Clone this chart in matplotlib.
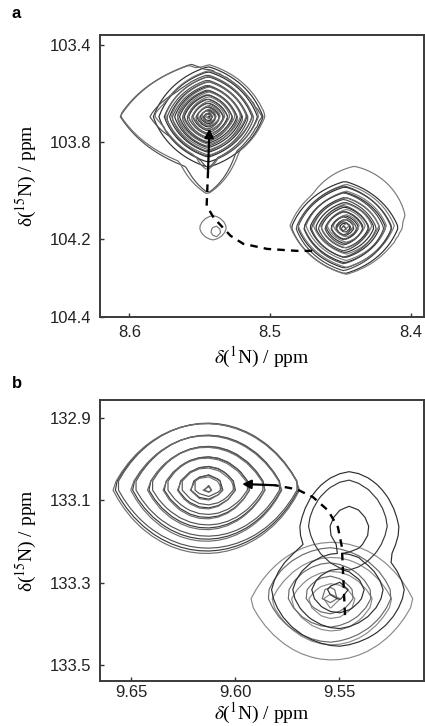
import numpy as np
import matplotlib
matplotlib.use("Agg")
import matplotlib.pyplot as plt

plt.rcParams["mathtext.fontset"] = "stix"
plt.rcParams["font.family"] = ["Liberation Sans", "DejaVu Sans"]

# ── peak model: each row = one peak component of one spectrum ──────────
# centre (ppm), outer half-widths (ppm), corner sharpness, rings above base
STEP = 0.1      # log-intensity step between contour levels
P = 0.75        # peak profile exponent

# panel a (8.39-8.62 / 103.36-104.52 ppm)
A_GROUP = [0, 1, 1, 1, 2, 2, 2, 3, 4, 4, 5, 6, 7]
A_X = [8.5439, 8.5444, 8.5560, 8.5440, 8.5434, 8.5575, 8.5445,
       8.4468, 8.4458, 8.4400, 8.4475, 8.5405, 8.5385]
A_Y = [103.697, 103.702, 103.695, 103.840, 103.692, 103.690, 103.850,
       104.152, 104.145, 104.100, 104.155, 104.153, 104.168]
A_HX = [0.039, 0.037, 0.0505, 0.020, 0.040, 0.0490, 0.022,
        0.038, 0.040, 0.036, 0.034, 0.0095, 0.0035]
A_HY = [0.207, 0.200, 0.215, 0.170, 0.210, 0.205, 0.165,
        0.190, 0.200, 0.200, 0.175, 0.050, 0.022]
A_KX = [0.5, 0.5, 0.9, 0.9, 0.5, 0.9, 0.9, 0.5, 0.5, 0.3, 0.5, 0.2, 0.2]
A_KY = [0.5, 0.5, 0.9, 0.9, 0.5, 0.9, 0.9, 0.5, 0.5, 0.3, 0.5, 0.2, 0.2]
A_N = [13, 12, 3, 2, 11.5, 2.5, 2, 11, 9, 2, 8, 1, 1]
A_COLOR = ["#2e2e2e", "#505050", "#6e6e6e", "#2e2e2e", "#7a7a7a",
           "#4a4a4a", "#7a7a7a", "#7a7a7a"]

# panel b (9.509-9.665 / 132.855-133.54 ppm)
B_GROUP = [0, 1, 2, 3, 4, 5, 5, 6]
B_X = [9.6135, 9.6131, 9.6138, 9.5534, 9.5545, 9.5505, 9.5450, 9.5457]
B_Y = [133.068, 133.064, 133.071, 133.345, 133.330, 133.320, 133.170,
       133.160]
B_HX = [0.0447, 0.0440, 0.0452, 0.0394, 0.0300, 0.0320, 0.0240, 0.0190]
B_HY = [0.155, 0.152, 0.158, 0.143, 0.115, 0.135, 0.140, 0.110]
B_KX = [0.0, 0.0, 0.0, 0.0, 0.1, 0.1, 0.1, 0.2]
B_KY = [0.5, 0.5, 0.5, 0.5, 0.3, 0.2, 0.2, 0.2]
B_N = [7, 6.8, 6.9, 5, 4, 4, 2, 1]
B_COLOR = ["#3a3a3a", "#555555", "#6e6e6e", "#8a8a8a", "#6a6a6a",
           "#2e2e2e", "#3a3a3a"]
B_STEP = 0.14

# titration paths (ppm) ending in the arrow tip
PATH_A_X = [8.470, 8.481, 8.502, 8.519, 8.528, 8.540, 8.545, 8.544, 8.543]
PATH_A_Y = [104.248, 104.248, 104.240, 104.219, 104.186, 104.112, 104.062,
            103.917, 103.745]
PATH_B_X = [9.5471, 9.5486, 9.5505, 9.5553, 9.5625, 9.5702, 9.5808, 9.5966]
PATH_B_Y = [133.379, 133.213, 133.165, 133.124, 133.092, 133.073, 133.063,
            133.060]

A_XLIM = (8.6208, 8.3905)
A_YLIM = (104.52, 103.36)
A_XTICKS = [8.6, 8.5, 8.4]
A_YTICKS = [103.4, 103.8, 104.2, 104.52]
A_YTICKLABELS = ["103.4", "103.8", "104.2", "104.4"]

B_XLIM = (9.6649, 9.5091)
B_YLIM = (133.540, 132.855)
B_XTICKS = [9.65, 9.60, 9.55]
B_YTICKS = [132.9, 133.1, 133.3, 133.5]


def field(X, Y, comps, step):
    # union of the peak components: each keeps its own contour rings
    best = np.full_like(X, -50.0)
    for x0, y0, hx, hy, kx, ky, n in comps:
        H = n * step
        r0 = H ** (1 / P)
        u = (X - x0) / hx * r0 / (1 + kx)
        v = (Y - y0) / hy * r0 / (1 + ky)
        r = np.sqrt(u**2 + v**2) + kx * np.abs(u) + ky * np.abs(v)
        best = np.maximum(best, H - r**P)
    return best


def draw_peaks(ax, groups, xs, ys, hxs, hys, kxs, kys, ns, colors, step,
               xlim, ylim, dx, dy):
    gx = np.arange(min(xlim), max(xlim), dx)
    gy = np.arange(min(ylim), max(ylim), dy)
    X, Y = np.meshgrid(gx, gy)
    for g, col in enumerate(colors):
        comps = [(xs[i], ys[i], hxs[i], hys[i], kxs[i], kys[i], ns[i])
                 for i in range(len(groups)) if groups[i] == g]
        F = field(X, Y, comps, step)
        nmax = max(c[6] for c in comps)
        levels = np.arange(0, nmax * step - 1e-9, step)
        ax.contour(X, Y, F, levels=levels, colors=col, linewidths=0.85)


def draw_path(ax, px, py):
    ax.plot(px[:-1], py[:-1], color="black", lw=1.7, dashes=(3.2, 2.6),
            zorder=5)
    ax.annotate("", xy=(px[-1], py[-1]), xytext=(px[-2], py[-2]),
                arrowprops=dict(arrowstyle="-|>", color="black", lw=1.6,
                                mutation_scale=13, shrinkA=0, shrinkB=0),
                zorder=6)


def style_axes(ax, xlim, ylim, xticks, xticklabels, yticks, yticklabels,
               xpad, labelpad):
    ax.set_xlim(*xlim)
    ax.set_ylim(*ylim)
    ax.set_xticks(xticks)
    ax.set_xticklabels(xticklabels)
    ax.set_yticks(yticks)
    ax.set_yticklabels(yticklabels)
    ax.tick_params(direction="in", length=3, width=1, labelsize=12,
                   pad=6, colors="#333333", labelcolor="#222222")
    ax.tick_params(axis="x", pad=xpad)
    for s in ax.spines.values():
        s.set_color("#3a3a3a")
        s.set_linewidth(1.4)
    ax.set_xlabel(r"$\delta$(${}^{1}$N) / ppm", fontsize=14,
                  family="Liberation Serif", labelpad=labelpad)
    ax.set_ylabel(r"δ(${}^{15}$N) / ppm", fontsize=14,
                  family="Liberation Serif", labelpad=8)


fig = plt.figure(figsize=(4.25, 7.26), dpi=100)
ax_a = fig.add_axes([0.2353, 0.5634, 0.7624, 0.3884])
ax_b = fig.add_axes([0.2353, 0.0616, 0.7624, 0.3878])

draw_peaks(ax_a, A_GROUP, A_X, A_Y, A_HX, A_HY, A_KX, A_KY, A_N, A_COLOR,
           STEP, A_XLIM, A_YLIM, 0.0025, 0.014)
draw_path(ax_a, PATH_A_X, PATH_A_Y)
style_axes(ax_a, A_XLIM, A_YLIM, A_XTICKS, ["8.6", "8.5", "8.4"],
           A_YTICKS, A_YTICKLABELS, 6, 3)

draw_peaks(ax_b, B_GROUP, B_X, B_Y, B_HX, B_HY, B_KX, B_KY, B_N, B_COLOR,
           B_STEP, B_XLIM, B_YLIM, 0.0045, 0.022)
draw_path(ax_b, PATH_B_X, PATH_B_Y)
style_axes(ax_b, B_XLIM, B_YLIM, B_XTICKS, ["9.65", "9.60", "9.55"],
           B_YTICKS, ["132.9", "133.1", "133.3", "133.5"], 3, 0)

fig.text(0.028, 0.982, "a", fontsize=12, fontweight="bold", va="center")
fig.text(0.028, 0.472, "b", fontsize=12, fontweight="bold", va="center")

fig.savefig("out.png", dpi=100)
